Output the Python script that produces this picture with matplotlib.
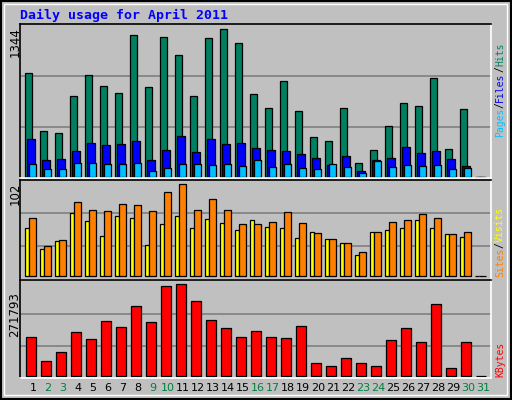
import matplotlib
matplotlib.use("Agg")
import matplotlib.pyplot as plt
import numpy as np

days = list(range(1, 32))
hits = [943,414,395,733,924,824,760,1289,815,1271,1107,733,1262,1344,1216,751,623,870,596,359,322,623,122,240,459,669,642,897,249,614,0]
files = [341,149,158,231,304,286,295,322,149,240,368,222,341,295,304,258,240,231,204,167,103,185,49,149,167,268,213,231,158,94,0]
pages = [113,67,67,122,122,113,113,122,49,76,113,113,103,113,94,149,85,113,76,67,113,85,30,140,85,103,94,103,67,76,0]
sites = [53,30,39,70,61,45,67,65,35,58,67,53,63,59,51,62,55,54,42,49,41,37,23,49,51,54,62,53,47,43,0]
visits = [65,33,40,82,74,72,80,79,72,94,102,73,86,73,58,58,60,71,59,48,41,37,27,49,60,62,69,65,47,49,0]
kbytes = [v * 992 for v in [115,43,70,130,109,163,145,208,160,268,274,223,166,142,115,133,115,112,148,37,28,52,37,28,106,142,100,214,22,100,0]]
weekend = {2, 3, 9, 10, 16, 17, 23, 24, 30, 31}

BG = "#C0C0C0"
W, H = 512, 400
fig = plt.figure(figsize=(W/100, H/100), dpi=100, facecolor=BG)

def ax_at(x0, y0, x1, y1):
    return fig.add_axes([x0/W, 1 - y1/H, (x1-x0)/W, (y1-y0)/H])

x = np.array(days, dtype=float)
def setup(ax, top, bottom_frac):
    ax.set_facecolor(BG)
    ax.set_xlim(0.13, 31.53)
    ax.set_ylim(-top*bottom_frac, top)
    ax.set_xticks([]); ax.set_yticks([])
    for s in ["left", "top"]:
        ax.spines[s].set_color("black")
    for s in ["right", "bottom"]:
        ax.spines[s].set_color("white")
    for sp in ax.spines.values():
        sp.set_linewidth(1.2)

ek = dict(edgecolor="black", linewidth=0.9)

# top panel
a1 = ax_at(20, 24, 491, 178)
mx = 1344
setup(a1, mx*153/147.4*0.995, 0.008)
for g in (0.68*mx, 0.338*mx):
    a1.axhline(g, color="#808080", lw=1.2, zorder=0)
a1.bar(x-0.3, hits, 0.47, color="#008060", **ek)
a1.bar(x-0.13, files, 0.53, color="#0000FF", **ek)
a1.bar(x-0.03, pages, 0.47, color="#00C0FF", **ek)

# middle panel
a2 = ax_at(20, 180, 491, 280)
setup(a2, 106.8, 0.04)
for g in (0.685*102, 0.326*102):
    a2.axhline(g, color="#808080", lw=1.2, zorder=0)
a2.bar(x-0.4, sites, 0.3, color="#FFFF00", **ek)
a2.bar(x-0.03, visits, 0.47, color="#FF8000", **ek)

# bottom panel
a3 = ax_at(20, 280, 491, 378)
mk = 271793
setup(a3, 284600, 0.025)
for g in (0.68*mk, 0.32*mk):
    a3.axhline(g, color="#808080", lw=1.2, zorder=0)
a3.bar(x-0.13, kbytes, 0.67, color="#FF0000", **ek)
for d in days:
    a3.text(d, -0.05, str(d), transform=a3.get_xaxis_transform(), ha="center", va="top",
            fontsize=8, color="#008040" if d in weekend else "black")

mono = "DejaVu Sans Mono"
fig.text(20/W, 1-15/H, "Daily usage for April 2011", color="#0000FF", family=mono,
         fontweight="bold", fontsize=9.5, va="center")
fig.text(15/W, 1-27/H, "1344", rotation=90, ha="center", va="top", fontsize=8.5)
fig.text(15/W, 1-183/H, "102", rotation=90, ha="center", va="top", fontsize=8.5)
fig.text(15/W, 1-292/H, "271793", rotation=90, ha="center", va="top", fontsize=8.5)

def vlabel(parts, x0, ybottom):
    y = ybottom
    for txt, col in parts:
        t = fig.text(x0/W, 1-y/H, txt, rotation=90, ha="center", va="bottom",
                     family=mono, fontsize=7, color=col)
        fig.canvas.draw()
        bb = t.get_window_extent()
        y -= bb.height
vlabel([("Pages", "#00C0FF"), ("/", "#000000"), ("Files", "#0000FF"),
        ("/", "#000000"), ("Hits", "#008060")], 500, 137)
vlabel([("Sites", "#FF8000"), ("/", "#000000"), ("Visits", "#FFFF00")], 500, 277)
vlabel([("KBytes", "#FF0000")], 500, 377)

# outer frame
from matplotlib.patches import Rectangle
fig.patches.append(Rectangle((1/W, 1/H), 1-2/W, 1-2/H, transform=fig.transFigure,
                             fill=False, edgecolor="black", lw=1.5))
fig.patches.append(Rectangle((4/W, 5/H), 1-9/W, 1-9/H, transform=fig.transFigure,
                             fill=False, edgecolor="white", lw=1))

fig.savefig("out.png", dpi=100, facecolor=BG)
